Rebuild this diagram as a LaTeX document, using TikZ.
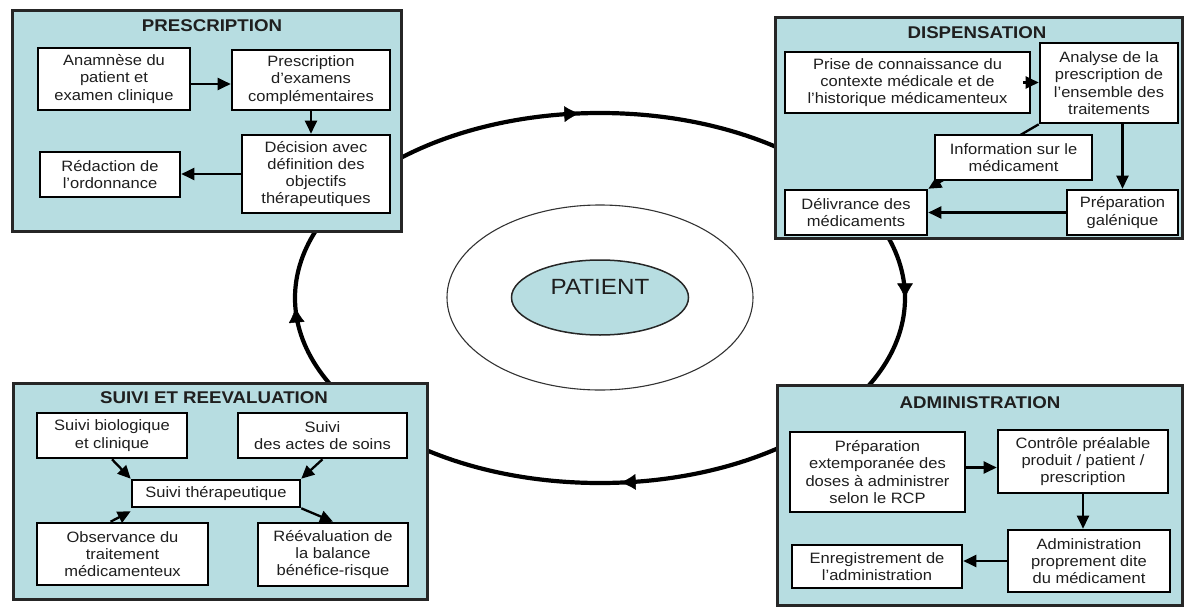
\documentclass[tikz,border=0pt]{standalone}
\usepackage{fontspec}
\setmainfont{Liberation Sans}[FakeStretch=1.1]
\usetikzlibrary{arrows.meta,decorations.markings,shapes.geometric}

\definecolor{panelfill}{RGB}{183,221,225}
\definecolor{ink}{RGB}{30,30,30}
\definecolor{edge}{RGB}{38,38,38}

\tikzset{
  panel/.style={draw=edge, line width=3pt, fill=panelfill, rectangle, inner sep=0pt},
  heading/.style={font=\fontsize{17}{20}\selectfont\bfseries, text=black!88, inner sep=0pt},
  box/.style={draw=black, line width=2.6pt, fill=white, rectangle, align=center,
    inner sep=0pt, font=\fontsize{15}{17.3}\selectfont, text=ink},
  arr/.style={line width=2.3pt, draw=black, -{Triangle[length=13pt,width=12pt]}},
  ring/.style={line width=4.2pt, draw=black},
  ringtip/.style={decorate, decoration={markings,
    mark=at position 0.5 with {\arrow{Latex[length=15pt,width=16pt,round]}}}},
}

\begin{document}
\begin{tikzpicture}[x=1pt,y=-1pt]
\useasboundingbox (0,0) rectangle (1184,608);

% the care cycle
\draw[ring] (600,298) ellipse [x radius=305, y radius=185];
\path[ringtip] (600,298) ++(256:305 and 185)
  arc [start angle=256, end angle=276, x radius=305, y radius=185];
\path[ringtip] (600,298) ++(-10:305 and 185)
  arc [start angle=-10, end angle=10, x radius=305, y radius=185];
\path[ringtip] (600,298) ++(76:305 and 185)
  arc [start angle=76, end angle=96, x radius=305, y radius=185];
\path[ringtip] (600,298) ++(167:305 and 185)
  arc [start angle=167, end angle=187, x radius=305, y radius=185];

% centre
\node[ellipse, draw=black!80, line width=1.1pt, minimum width=306pt, minimum height=185pt, inner sep=0pt] (halo) at (600,297.5) {};
\node[ellipse, draw=black!85, line width=1.5pt, fill=panelfill, minimum width=177pt, minimum height=75pt, inner sep=0pt] (core) at (600,297.5) {};
\node[font=\fontsize{22}{24}\selectfont, text=ink, inner sep=0pt] (patient) at (600,287) {PATIENT};

% ---------- PRESCRIPTION ----------
\node[panel, minimum width=389pt, minimum height=221pt] (pres) at (206.5,120.5) {};
\node[heading] (presT) at (212,26) {PRESCRIPTION};
\node[box, minimum width=152pt, minimum height=62pt] (anam) at (114,79) {Anamnèse du\\patient et\\examen clinique};
\node[box, minimum width=158pt, minimum height=60pt] (exam) at (311,80) {Prescription\\d’examens\\complémentaires};
\node[box, minimum width=148pt, minimum height=78pt] (deci) at (316,174) {Décision avec\\définition des\\objectifs\\thérapeutiques};
\node[box, minimum width=140pt, minimum height=45pt] (redac) at (110,174.5) {Rédaction de\\l’ordonnance};
\draw[arr] ([yshift=-5pt]anam.east) -- ([yshift=-5pt]anam.east -| exam.west);
\draw[arr] (exam.south) -- (exam.south |- deci.north);
\draw[arr] (deci.west) -- (deci.west -| redac.east);

% ---------- DISPENSATION ----------
\node[panel, minimum width=407pt, minimum height=221pt] (disp) at (978.5,127.5) {};
\node[heading] (dispT) at (977,33) {DISPENSATION};
\node[box, minimum width=245pt, minimum height=61pt] (prise) at (907.5,82.5) {Prise de connaissance du\\contexte médicale et de\\l’historique médicamenteux};
\node[box, minimum width=138pt, minimum height=80pt] (analyse) at (1109,83) {Analyse de la\\prescription de\\l’ensemble des\\traitements};
\node[box, minimum width=142pt, minimum height=45pt] (deliv) at (856,212.5) {Délivrance des\\médicaments};
\node[box, minimum width=111pt, minimum height=45pt] (galen) at (1122.5,212.5) {Préparation\\galénique};
\draw[arr] (analyse.south west) -- (deliv.north east);
\node[box, minimum width=157pt, minimum height=45pt] (info) at (1013.5,157.5) {Information sur le\\médicament};
\draw[arr] ([xshift=-8pt]prise.east) -- (analyse.west |- prise.east);
\draw[arr] (galen.north |- analyse.south) -- (galen.north);
\draw[arr] (galen.west) -- (deliv.east);

% ---------- SUIVI ET REEVALUATION ----------
\node[panel, minimum width=414pt, minimum height=216pt] (suivi) at (220,491) {};
\node[heading] (suiviT) at (214,398) {SUIVI ET REEVALUATION};
\node[box, minimum width=150pt, minimum height=45pt] (bio) at (112,435.5) {Suivi biologique\\et clinique};
\node[box, minimum width=169pt, minimum height=45pt] (soins) at (322.5,435.5) {Suivi\\des actes de soins};
\node[box, minimum width=168pt, minimum height=27pt] (thera) at (216,493.5) {Suivi thérapeutique};
\node[box, minimum width=171pt, minimum height=62pt] (obs) at (122.5,554) {Observance du\\traitement\\médicamenteux};
\node[box, minimum width=150pt, minimum height=63pt] (reev) at (333,554.5) {Réévaluation de\\la balance\\bénéfice-risque};
\draw[arr] (bio.south) -- (thera.north west);
\draw[arr] (soins.south) -- (thera.north east);
\draw[arr] ([xshift=-12pt]obs.north) -- ([yshift=-3pt]thera.south west);
\draw[arr] (thera.south east) -- (reev.north);

% ---------- ADMINISTRATION ----------
\node[panel, minimum width=405pt, minimum height=220pt] (admin) at (979.5,495) {};
\node[heading] (adminT) at (980,403) {ADMINISTRATION};
\node[box, minimum width=175pt, minimum height=80pt] (prepa) at (877.5,472) {Préparation\\extemporanée des\\doses à administrer\\selon le RCP};
\node[box, minimum width=170pt, minimum height=63pt] (ctrl) at (1083,461.5) {Contrôle préalable\\produit / patient /\\prescription};
\node[box, minimum width=162pt, minimum height=62pt] (adm) at (1089,561) {Administration\\proprement dite\\du médicament};
\node[box, minimum width=170pt, minimum height=43pt] (enreg) at (877,566.5) {Enregistrement de\\l’administration};
\draw[arr] ([yshift=-6pt]ctrl.west -| prepa.east) -- ([yshift=-6pt]ctrl.west);
\draw[arr] (ctrl.south) -- (ctrl.south |- adm.north);
\draw[arr] (adm.west) -- (adm.west -| enreg.east);

\end{tikzpicture}
\end{document}
